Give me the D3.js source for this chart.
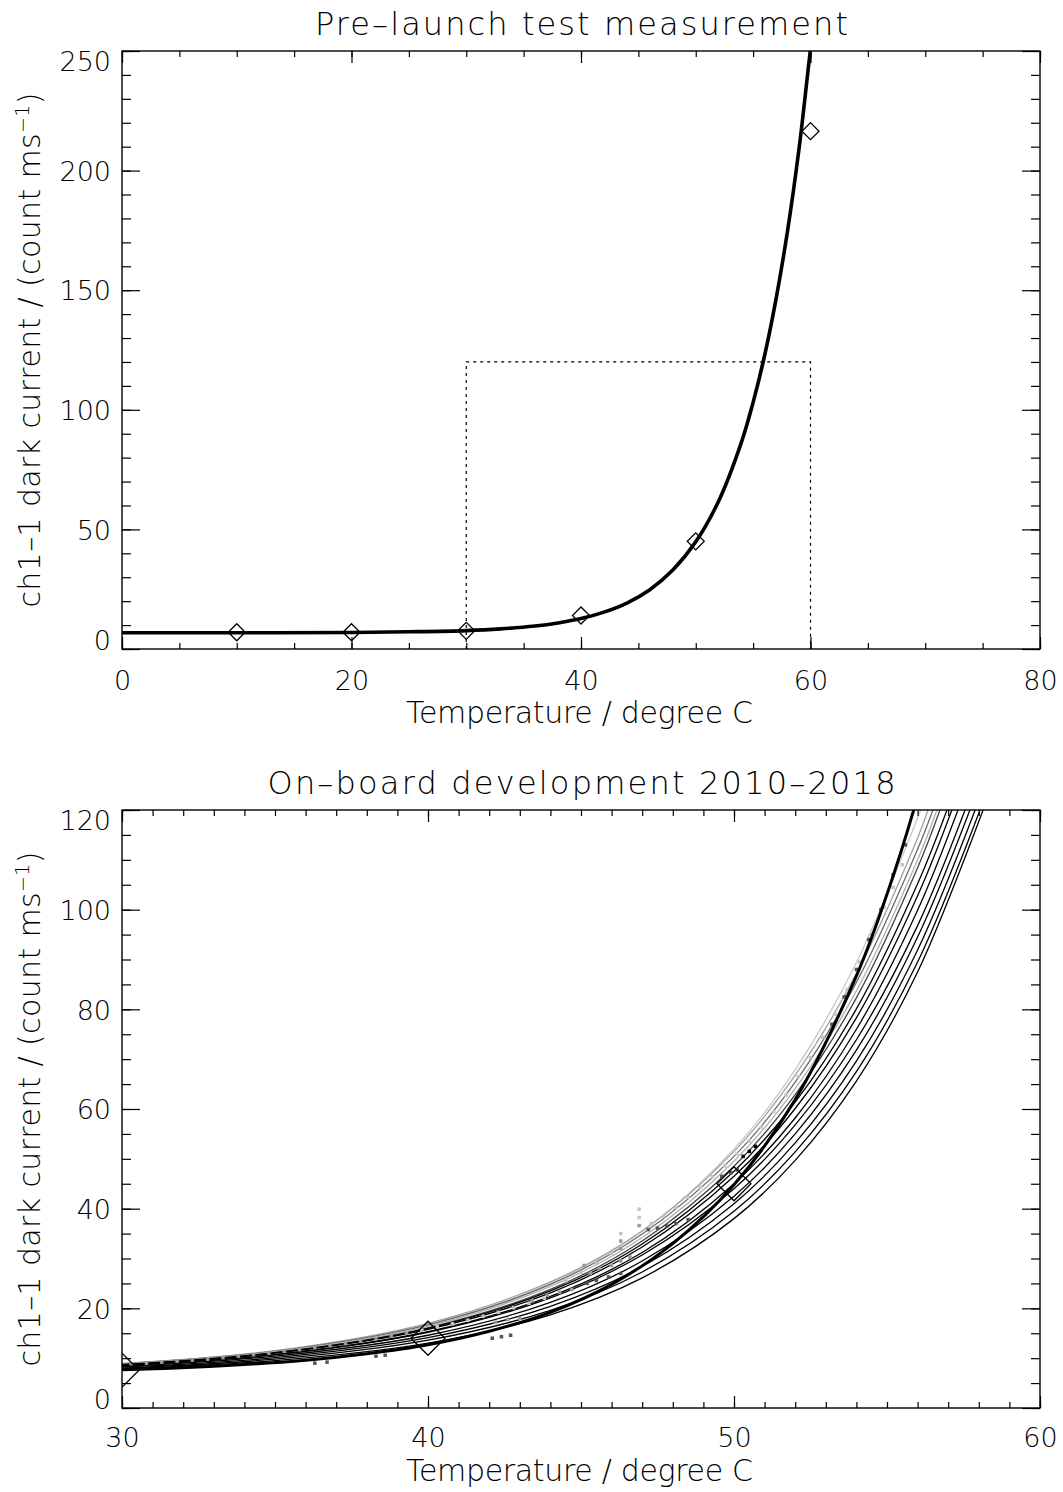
<!DOCTYPE html>
<html><head><meta charset="utf-8">
<script src="https://cdn.jsdelivr.net/npm/d3@7"></script>
<style>
body{margin:0;background:#fff;}
text{font-family:"DejaVu Sans",sans-serif;font-weight:200;fill:#000;}
</style></head><body>
<svg id="c" width="1063" height="1492"></svg>
<script>
// ---------- DATA ----------
const topTitle = "Pre–launch test measurement";
const bottomTitle = "On–board development 2010–2018";
const xTitle = "Temperature / degree C";
const yTitleMain = "ch1–1 dark current / (count ms";
const yTitleSup = "−1";

const topXTicks = [0, 20, 40, 60, 80];
const topYTicks = [0, 50, 100, 150, 200, 250];
const botXTicks = [30, 40, 50, 60];
const botYTicks = [0, 20, 40, 60, 80, 100, 120];

// pre-launch measurements (diamonds)
const preT = [10, 20, 30, 40, 50, 60];
const preV = [7.0, 7.0, 7.6, 14.0, 45.0, 216.5];

// pre-launch fit curve (thick line)
const fitPreT = [0, 10, 20, 25, 30, 33, 36, 38, 40, 42, 44, 46, 48, 50, 52, 54, 55, 56, 57, 58, 59, 60, 60.3];
const fitPreV = [6.8, 6.8, 6.9, 7.2, 7.7, 8.4, 9.6, 10.9, 12.7, 15.4, 19.2, 24.8, 33.0, 44.8, 61.9, 86.7, 103.1, 122.7, 146.4, 174.8, 209.1, 250.8, 262];

// zoom box of lower panel
const boxT = [30, 60];
const boxV = [0, 120];

// on-board fits 2010-2018 (thin lines), values at onboardT, then end point where they leave the frame
const onboardT = [30, 35, 40, 44, 47, 50, 52, 54, 56];
const onboardV = [
  [8.8, 11.3, 16.7, 25.0, 35.5, 52.0, 67.9, 89.4, 118.4],
  [8.9, 11.5, 17.0, 25.3, 35.5, 51.5, 66.8, 87.2, 114.4],
  [8.9, 11.4, 16.7, 24.8, 34.9, 50.5, 65.4, 85.4, 112.1],
  [8.8, 11.3, 16.4, 24.4, 34.2, 49.5, 64.1, 83.7, 110.0],
  [8.7, 11.1, 16.1, 23.8, 33.5, 48.5, 62.9, 82.3, 108.4],
  [8.7, 11.1, 16.0, 23.5, 32.9, 47.5, 61.4, 80.1, 105.2],
  [8.6, 11.0, 15.8, 23.1, 32.3, 46.5, 60.1, 78.3, 102.8],
  [8.5, 10.7, 15.3, 22.4, 31.2, 45.0, 58.2, 76.0, 99.9],
  [8.5, 10.7, 15.2, 22.1, 30.7, 44.0, 56.8, 73.9, 96.8],
  [8.3, 10.4, 14.6, 21.2, 29.5, 42.5, 55.0, 71.8, 94.5],
  [8.2, 10.1, 14.1, 20.4, 28.4, 41.0, 53.2, 69.6, 91.9],
  [8.0, 9.8, 13.6, 19.6, 27.3, 39.5, 51.4, 67.5, 89.5],
  [7.9, 9.5, 13.0, 18.7, 26.1, 38.0, 49.7, 65.6, 87.5]
];
const onboardEndT = [56.1, 56.34, 56.5, 56.63, 56.73, 56.96, 57.12, 57.32, 57.55, 57.71, 57.88, 58.04, 58.14];
const onboardEndV = [120, 120, 120, 120, 120, 120, 120, 120, 120, 120, 120, 120, 120];

// on-board measurements (grey points): temperature, value, shade class
const measT = [30.3,30.8,31.3,31.8,32.3,32.8,33.3,33.8,34.3,34.8,35.3,35.8,36.3,36.8,37.3,37.8,38.3,38.8,39.3,39.8,40.3,40.8,41.3,41.8,42.3,42.8,43.3,43.8,
  36.3,36.7,38.3,38.6,42.1,42.4,42.7,
  42.2,42.6,43.0,43.4,43.9,44.3,44.7,45.2,45.5,45.9,46.3,45.3,45.6,46.0,46.3,46.6,45.1,46.3,46.3,46.3,46.9,46.9,46.9,47.2,47.5,47.8,48.1,48.5,
  44.5,45.0,45.5,46.0,47.3,47.7,48.1,48.5,48.9,49.3,49.7,50.1,50.5,50.9,51.3,51.7,52.1,52.5,52.9,53.3,53.7,54.1,54.5,54.9,55.2,55.5,
  53.2,53.6,54.0,54.4,54.8,55.2,55.6,50.3,50.5,50.7,49.6,49.9,50.1];
const measV = [8.9,9.0,9.2,9.4,9.6,9.8,10.1,10.4,10.7,11.0,11.4,11.7,12.1,12.5,12.9,13.4,13.9,14.4,15.0,15.6,16.3,16.9,17.6,18.4,19.2,20.1,21.0,22.0,
  9.0,9.2,10.4,10.6,14.0,14.3,14.6,
  17.2,17.8,18.0,21.5,22.6,23.2,23.8,25.0,25.6,26.3,27.0,27.0,28.0,28.6,29.5,30.3,28.6,32.0,33.5,35.0,36.6,38.2,39.9,35.8,36.1,36.5,37.0,37.8,
  25.5,27.2,29.0,31.0,37.0,38.5,40.3,42.3,44.3,46.4,48.6,51.0,53.6,56.4,59.5,62.8,66.5,70.3,74.4,79.0,84.0,89.5,95.0,100.5,104.5,109.0,
  77.0,82.5,88.0,94.0,100.0,107.0,113.0,50.5,51.5,52.5,46.5,47.2,47.8];
const measShade = [1,1,1,1,1,1,1,1,1,1,1,1,1,1,1,1,1,1,1,0,0,0,0,0,0,0,0,0,
  2,2,2,2,2,2,2,
  1,1,1,1,1,1,1,2,2,2,2,1,1,1,1,1,1,1,1,0,1,0,0,2,2,2,2,2,
  0,0,0,0,0,0,0,0,0,0,0,0,0,0,0,0,0,0,0,0,0,0,0,0,0,0,
  2,2,2,2,2,2,2,3,3,3,2,2,2];

// ---------- STYLE ----------
const shadeColor = ["#c4c4c4", "#9a9a9a", "#555555", "#000000"];
const onboardColor = ["#c8c8c8", "#a0a0a0", "#6a6a6a", "#b0b0b0", "#404040", "#000", "#000", "#000", "#000", "#000", "#000", "#000", "#000"];

const svg = d3.select("#c");
const L = 122, R = 1040;
const tickFont = "27px";

const panels = [
  {x: d3.scaleLinear([0, 80], [L, R]), y: d3.scaleLinear([0, 250], [649, 51]),
   xMajor: topXTicks, xMinor: d3.range(0, 81, 5), yMajor: topYTicks, yMinor: d3.range(0, 251, 10),
   title: topTitle, titleY: 35, titleLen: 533, xLabY: 690, xTitleY: 723, id: "p1", dia: 8.5},
  {x: d3.scaleLinear([30, 60], [L, R]), y: d3.scaleLinear([0, 120], [1408, 810]),
   xMajor: botXTicks, xMinor: d3.range(30, 61, 1), yMajor: botYTicks, yMinor: d3.range(0, 121, 5),
   title: bottomTitle, titleY: 794, titleLen: 628, xLabY: 1447, xTitleY: 1481, id: "p2", dia: 17}
];

panels.forEach(p => {
  const x = p.x, y = p.y;
  const [y0, y1] = y.range();
  const g = svg.append("g");
  g.append("clipPath").attr("id", "clip" + p.id).append("rect")
    .attr("x", L).attr("y", y1).attr("width", R - L).attr("height", y0 - y1);
  p.g = g;
  p.plot = g.append("g").attr("clip-path", `url(#clip${p.id})`);

  // axes
  const xl = 12, yl = 18;
  const bot = g.append("g").attr("transform", `translate(0,${y0})`);
  bot.call(d3.axisBottom(x).tickValues(p.xMinor).tickSize(-xl / 2).tickFormat(""));
  bot.append("g").call(d3.axisBottom(x).tickValues(p.xMajor).tickSize(-xl).tickFormat(d3.format("d")));
  bot.selectAll("text").attr("y", p.xLabY - y0).attr("dy", 0).style("font-size", tickFont).style("font-family", "'DejaVu Sans',sans-serif").style("font-weight", 200);
  const top = g.append("g").attr("transform", `translate(0,${y1})`);
  top.call(d3.axisTop(x).tickValues(p.xMinor).tickSize(-xl / 2).tickFormat(""));
  top.append("g").call(d3.axisTop(x).tickValues(p.xMajor).tickSize(-xl).tickFormat(""));
  const left = g.append("g").attr("transform", `translate(${L},0)`);
  left.call(d3.axisLeft(y).tickValues(p.yMinor).tickSize(-yl / 2).tickFormat(""));
  const lm = left.append("g").call(d3.axisLeft(y).tickValues(p.yMajor).tickSize(-yl).tickPadding(11).tickFormat(d3.format("d")));
  const ymax = d3.max(p.yMajor), ymin = d3.min(p.yMajor);
  lm.selectAll("text").attr("x", -11)
    .attr("dy", d => d === ymax ? "0.72em" : d === ymin ? "0" : "0.36em")
    .style("font-size", tickFont).style("font-family", "'DejaVu Sans',sans-serif").style("font-weight", 200);
  const right = g.append("g").attr("transform", `translate(${R},0)`);
  right.call(d3.axisRight(y).tickValues(p.yMinor).tickSize(-yl / 2).tickFormat(""));
  right.append("g").call(d3.axisRight(y).tickValues(p.yMajor).tickSize(-yl).tickFormat(""));
  g.selectAll(".domain").remove();
  g.selectAll(".tick line").attr("stroke", "#000").attr("stroke-width", 1.2);
  g.append("rect").attr("x", L).attr("y", y1).attr("width", R - L).attr("height", y0 - y1)
    .attr("fill", "none").attr("stroke", "#000").attr("stroke-width", 1.4);

  // titles
  g.append("text").attr("x", 581.5).attr("y", p.titleY).attr("text-anchor", "middle")
    .attr("textLength", p.titleLen).attr("lengthAdjust", "spacing")
    .style("font-size", "32px").text(p.title);
  g.append("text").attr("x", 579.5).attr("y", p.xTitleY).attr("text-anchor", "middle")
    .attr("textLength", 347).attr("lengthAdjust", "spacing")
    .style("font-size", "30px").text(xTitle);
  const yc = (y0 + y1) / 2;
  const yt = g.append("text").attr("transform", `translate(40,${yc}) rotate(-90)`)
    .attr("text-anchor", "middle").style("font-size", "30px");
  yt.append("tspan").text(yTitleMain);
  yt.append("tspan").attr("dy", -11).style("font-size", "19px").text(yTitleSup);
  yt.append("tspan").attr("dy", 11).text(")");
  yt.attr("textLength", 515).attr("lengthAdjust", "spacing");
});

// ---------- TOP PANEL ----------
{
  const p = panels[0], x = p.x, y = p.y;
  const line = d3.line().x(d => x(d[0])).y(d => y(d[1])).curve(d3.curveCatmullRom);
  p.plot.append("path")
    .attr("d", d3.line()([[x(boxT[0]), y(boxV[0])], [x(boxT[0]), y(boxV[1])], [x(boxT[1]), y(boxV[1])], [x(boxT[1]), y(boxV[0])]]))
    .attr("fill", "none").attr("stroke", "#000").attr("stroke-width", 1.2).attr("stroke-dasharray", "3,4");
  p.plot.append("path").attr("d", line(d3.zip(fitPreT, fitPreV)))
    .attr("fill", "none").attr("stroke", "#000").attr("stroke-width", 3.6);
  p.plot.selectAll("path.dia").data(d3.zip(preT, preV)).join("path").attr("class", "dia")
    .attr("d", d3.symbol(d3.symbolSquare, (p.dia * Math.SQRT2) ** 2))
    .attr("transform", d => `translate(${x(d[0])},${y(d[1])}) rotate(45)`)
    .attr("fill", "none").attr("stroke", "#000").attr("stroke-width", 1.3);
}

// ---------- BOTTOM PANEL ----------
{
  const p = panels[1], x = p.x, y = p.y;
  const line = d3.line().x(d => x(d[0])).y(d => y(d[1])).curve(d3.curveCatmullRom);
  onboardV.forEach((vals, k) => {
    const pts = d3.zip(onboardT, vals).concat([[onboardEndT[k], onboardEndV[k]]]);
    p.plot.append("path").attr("d", line(pts))
      .attr("fill", "none").attr("stroke", onboardColor[k]).attr("stroke-width", 1.3);
  });
  p.plot.selectAll("rect.m").data(d3.range(measT.length)).join("rect").attr("class", "m")
    .attr("x", i => x(measT[i]) - 1.75).attr("y", i => y(measV[i]) - 1.75)
    .attr("width", 3.5).attr("height", 3.5).attr("fill", i => shadeColor[measShade[i]]);
  p.plot.append("path").attr("d", line(d3.zip(fitPreT, fitPreV)))
    .attr("fill", "none").attr("stroke", "#000").attr("stroke-width", 3);
  p.plot.selectAll("path.dia").data(d3.zip(preT, preV)).join("path").attr("class", "dia")
    .attr("d", d3.symbol(d3.symbolSquare, (p.dia * Math.SQRT2) ** 2))
    .attr("transform", d => `translate(${x(d[0])},${y(d[1])}) rotate(45)`)
    .attr("fill", "none").attr("stroke", "#000").attr("stroke-width", 1.3);
}
</script>
</body></html>
